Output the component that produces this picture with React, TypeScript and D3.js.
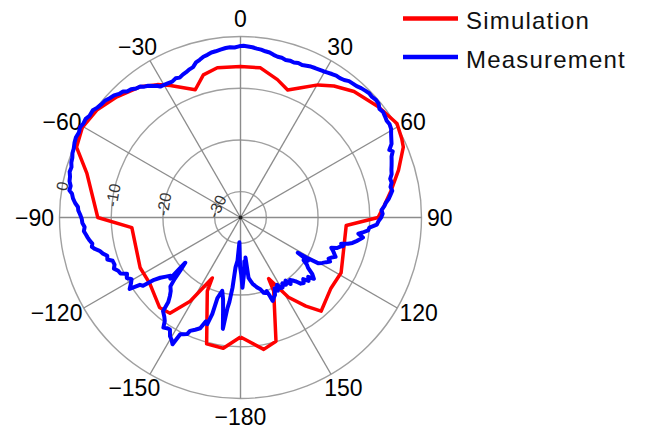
import React from "react";
import * as d3 from "d3";

// angle (deg, 0 = top, clockwise) / gain (dB)
const simAngles = [-180, -172.5, -165, -155.7, -155, -149, -143.6, -138, -126, -116.6, -95.3, -90, -74, -66.8, -60.3, -53.2, -45.7, -37.6, -32, -28, -19.5, -14.6, -8.8, 0, 7.6, 15, 20.3, 25, 30.3, 35.4, 42, 51.2, 59, 64, 66.6, 73.3, 79.8, 85.2, 90, 94.3, 106, 118.8, 128, 139.3, 143.6, 149, 155.3, 155.7, 164, 170, 180];
const simValues = [-11.9, -9.5, -9.7, -19.4, -22.1, -16.1, -12, -11.6, -13.3, -13.3, -13.9, -7.4, -4.1, -0.5, 0.2, -0.3, -1.6, -3.1, -4.7, -6.1, -8.8, -6.5, -5.7, -5.8, -5.8, -7.4, -8.7, -7.3, -5.3, -3.8, -2.2, -0.8, 0.3, -0.3, -0.7, -3.1, -5.4, -7.1, -8.4, -14.5, -14.2, -12.8, -12.8, -11.1, -13.7, -17, -22, -19.4, -10.1, -9.1, -11.9];

const measAngles = [-179.5, -177.5, -176, -174.3, -173.5, -172.5, -171.8, -171, -169.5, -168, -166, -164, -163.7, -162.7, -161.5, -160, -158, -156, -155.4, -154, -152.7, -151.8, -150.5, -149.3, -147.8, -146.4, -145, -143.8, -142.5, -140.4, -139.5, -138, -136.5, -134.5, -133, -131.5, -129.3, -130.5, -131, -129.8, -128.4, -126.9, -125.8, -125, -123.8, -122.8, -121, -119.5, -118, -116.4, -115, -113.5, -112, -110.5, -108.7, -107.5, -106, -104.7, -103.3, -102.2, -101.2, -100, -98.7, -97.5, -96.2, -95, -93.5, -92, -90.5, -89, -87.5, -86.3, -85, -83.5, -82, -81, -79.5, -78, -76.5, -75, -73.4, -72, -70.5, -69, -67.5, -65.8, -64, -62.3, -60.6, -59, -57.5, -56, -54, -52.5, -51, -49.3, -47.5, -46, -44.5, -43, -42, -40.5, -39, -37.5, -36.3, -35, -33.5, -32.5, -31.5, -30, -28.5, -26.7, -25, -23.5, -22, -20.5, -19, -17.5, -16, -14.5, -13, -11.5, -10, -8.5, -6.8, -5, -3.5, -2, -0.5, 1, 2.5, 4, 5.5, 7, 8.5, 10, 11.5, 13, 14.5, 16, 17.5, 19, 20.5, 22, 23.5, 25, 26.5, 28, 29.5, 31, 32.5, 34, 35.5, 37, 38.5, 40, 41.5, 43, 44.5, 46, 47.5, 49, 50.5, 52, 53.5, 55, 56.5, 58, 59.5, 61, 62.8, 64, 65.6, 66.5, 68, 69.5, 71, 72.5, 74, 75.5, 77, 78.5, 80, 81.5, 82.8, 84.1, 85.5, 87, 88.5, 90, 91.5, 93, 94.5, 95.8, 97, 97.8, 99.3, 100.5, 101.5, 102.8, 103.7, 104.6, 105.5, 106.5, 107.5, 108.4, 109.7, 111, 112.5, 113.8, 115, 116.2, 117.5, 119, 120.5, 121.3, 121.6, 122.7, 124, 125.5, 126.7, 128.3, 129.9, 131.2, 133, 134.5, 136, 137.7, 139, 139.9, 141.5, 143, 144.5, 146, 147.5, 149, 150.3, 151.5, 153, 154.3, 156, 157.5, 158.9, 159.5, 160.5, 161.6, 163, 164.5, 166.3, 168, 169.7, 171, 172.4, 172.9, 173.8, 175, 176.5, 178.4, 179.3];
const measValues = [-25.5, -30.2, -26.6, -25.3, -21.3, -18.5, -17.3, -13.2, -16.5, -18.8, -20.4, -18.8, -15.6, -13.4, -13.8, -12.2, -11.6, -11, -10.2, -9.9, -9.6, -7.2, -7.9, -8.3, -9.4, -9.3, -9.0, -10.2, -10.8, -11.5, -13.5, -14.6, -15.4, -16, -17.6, -19.4, -21.2, -18.3, -17, -17.4, -16.6, -15.6, -14.4, -12, -11.6, -9.5, -10.3, -10.8, -10.1, -10.5, -9.4, -9.2, -8.6, -9.0, -8.9, -8.0, -8.2, -7.5, -7.0, -6.2, -5.7, -5.9, -5.5, -5.2, -4.9, -4.6, -4.8, -4.4, -4.3, -4.0, -3.6, -3.5, -2.9, -2.4, -2.1, -1.5, -1.6, -1.2, -1.1, -0.8, -0.9, -0.6, -0.5, -0.2, -0.1, 0.2, 0.4, 0.3, 0.6, 0.4, 0.5, 0.2, 0.3, -0.1, -0.3, -0.4, -0.8, -1.0, -1.5, -1.7, -2.2, -2.4, -2.9, -3.1, -3.6, -3.9, -4.5, -4.8, -5.3, -5.4, -5.5, -5.6, -5.3, -5.5, -5.2, -5.0, -4.7, -4.5, -3.8, -3.5, -3.1, -2.9, -2.6, -2.5, -2.3, -2.1, -2.0, -2.1, -1.9, -1.8, -1.9, -2.0, -2.2, -2.3, -2.5, -2.6, -2.9, -3.1, -3.1, -3.3, -3.2, -3.3, -3.1, -3.2, -3.0, -2.8, -2.7, -2.6, -2.5, -2.3, -2.1, -1.9, -1.9, -1.7, -1.3, -1.2, -1.1, -0.8, -0.6, -0.4, -0.5, -0.3, -0.4, -0.9, -0.7, -0.9, -1.1, -1.0, -1.2, -1.7, -2.2, -2.5, -3.4, -2.9, -3.5, -3.8, -4.1, -4.4, -4.6, -5.1, -5.0, -5.4, -5.2, -5.7, -6.1, -6.7, -7.1, -7.7, -7.5, -7.8, -8.3, -8.6, -10, -10.2, -11.2, -12, -11, -11.6, -12.1, -12.8, -13.6, -14.9, -14.4, -15, -15.4, -16.5, -16, -15.6, -15.1, -15.8, -16.2, -15.7, -16.3, -16.9, -17.6, -20, -22, -19.5, -20.3, -19.2, -18.7, -17.3, -16.5, -17.6, -17, -18, -17.4, -17.7, -18.6, -19, -19.6, -18.9, -20, -19.3, -19.9, -19.2, -19.3, -20.2, -19.1, -19.8, -18.6, -18.2, -17.7, -18.8, -19.9, -19.6, -19.8, -20.6, -21, -21.5, -22, -22.6, -23.2, -27.2, -25, -26.5, -24, -21.4, -24];

const ringTicks = [0, -10, -20, -30];
const angleTicks = [0, 30, 60, 90, 120, 150, 180, -150, -120, -90, -60, -30];
const angleLabels = ["0", "30", "60", "90", "120", "150", "\u2212180", "\u2212150", "\u2212120", "\u221290", "\u221260", "\u221230"];
const seriesNames = ["Simulation", "Measurement"];
const seriesColors = ["#ff0000", "#0000ff"];

const W = 651;
const H = 429;
const cx = 240.5;
const cy = 217.5;
const R = 181;
const FONT = "'Liberation Sans', Arial, sans-serif";
const LABEL_SIZE = 23;

// rough Arial advance widths, to push angle labels clear of the circle
const textWidth = (s: string) =>
  Array.from(s).reduce((w, ch) => w + (ch === "\u2212" ? 0.584 : 0.556), 0) * LABEL_SIZE;

export default function App() {
  const r = d3.scaleLinear().domain([-35, 0]).range([0, R]);
  const rad = (deg: number) => (deg * Math.PI) / 180;
  const pt = (deg: number, radius: number) => [cx + radius * Math.sin(rad(deg)), cy - radius * Math.cos(rad(deg))];

  const sim = simAngles.map((a, i) => [a, simValues[i]] as [number, number]);
  const meas = measAngles.map((a, i) => [a, measValues[i]] as [number, number]);

  const line = d3
    .lineRadial<[number, number]>()
    .angle((d) => rad(d[0]))
    .radius((d) => r(d[1]));

  return (
    <svg width={W} height={H} style={{ position: "absolute", left: 0, top: 0, background: "#fff" }}>
      <g>
        {ringTicks.map((t) => (
          <circle key={t} cx={cx} cy={cy} r={r(t)} fill="none" stroke="#a0a0a0" strokeWidth={1.4} />
        ))}
        {angleTicks.map((a) => {
          const [x, y] = pt(a, R);
          return <line key={a} x1={cx} y1={cy} x2={x} y2={y} stroke="#8c8c8c" strokeWidth={1.4} />;
        })}
        <circle cx={cx} cy={cy} r={2} fill="#222" />
      </g>

      {ringTicks.map((t) => {
        const rr = r(t);
        const phi = Math.max(10, (Math.asin(Math.min(1, 11 / rr)) * 180) / Math.PI);
        const [x, y] = pt(-90 + phi, rr);
        return (
          <text key={t} x={x} y={y} dy="0.35em" textAnchor="middle" fontFamily={FONT} fontSize={16} fill="#333"
            transform={`rotate(${-90 + phi}, ${x}, ${y})`}>
            {t}
          </text>
        );
      })}

      {angleTicks.map((a, i) => {
        const s = Math.sin(rad(a));
        const c = Math.cos(rad(a));
        const halfW = textWidth(angleLabels[i]) / 2 + 2.5;
        const x = cx + (R + 3) * s + halfW * s;
        const y = cy - (R + 3) * c - 14.75 * c * Math.abs(c);
        return (
          <text key={a} x={x} y={y} dy="0.36em" textAnchor="middle" fontFamily={FONT} fontSize={LABEL_SIZE} fill="#000">
            {angleLabels[i]}
          </text>
        );
      })}

      <g transform={`translate(${cx},${cy})`}>
        <path d={line.curve(d3.curveLinear)(sim) || ""} fill="none" stroke={seriesColors[0]} strokeWidth={3.5} strokeLinejoin="round" />
        <path d={line.curve(d3.curveLinearClosed)(meas) || ""} fill="none" stroke={seriesColors[1]} strokeWidth={4} strokeLinejoin="round" />
      </g>

      {seriesNames.map((name, i) => {
        const y = i === 0 ? 18.5 : 57;
        return (
          <g key={name}>
            <line x1={403} x2={458} y1={y} y2={y} stroke={seriesColors[i]} strokeWidth={4.5} />
            <text x={466} y={y + 2} dy="0.36em" fontFamily={FONT} fontSize={24} letterSpacing={1.2} fill="#111">
              {name}
            </text>
          </g>
        );
      })}
    </svg>
  );
}
